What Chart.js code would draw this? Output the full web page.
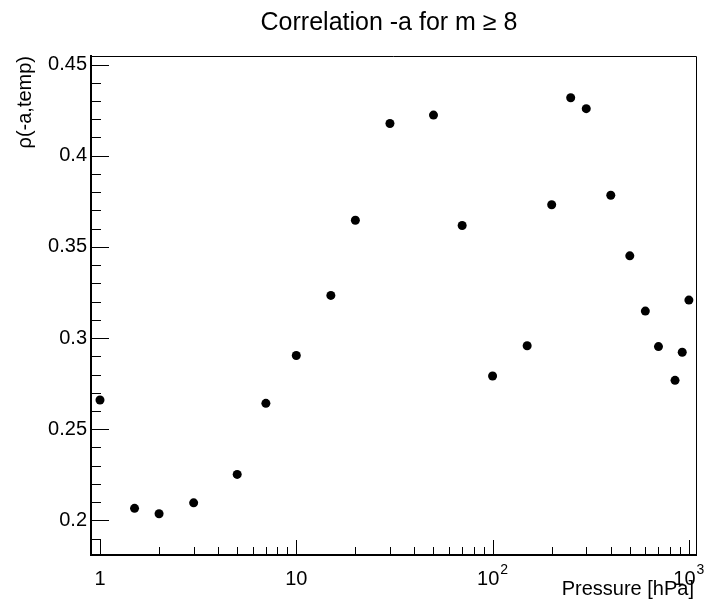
<!DOCTYPE html>
<html>
<head>
<meta charset="utf-8">
<script src="https://cdn.jsdelivr.net/npm/chart.js@4/dist/chart.umd.min.js"></script>
<style>
  html, body { margin: 0; padding: 0; background: #fff; }
  #wrap { width: 704px; height: 602px; }
</style>
</head>
<body>
<div id="wrap"><canvas id="corrChart" width="704" height="602"></canvas></div>
<script>
// ── DATA ──────────────────────────────────────────
const pressure = [1, 1.5, 2, 3, 5, 7, 10, 15, 20, 30, 50, 70,
                  100, 150, 200, 250, 300, 400, 500, 600, 700, 850, 925, 1000];
const corr = [0.266, 0.2066, 0.2036, 0.2096, 0.2252, 0.2642, 0.2904, 0.3234, 0.3646, 0.4177, 0.4223, 0.3617,
              0.2792, 0.2958, 0.3731, 0.4318, 0.4258, 0.3783, 0.3451, 0.3148, 0.2953, 0.2768, 0.2922, 0.3208];

const xTicks = [1, 10, 100, 1000];
const xTickBase = ['1', '10', '10', '10'];
const xTickExp = ['', '', '2', '3'];
const yTicks = [0.2, 0.25, 0.3, 0.35, 0.4, 0.45];

const TITLE = 'Correlation -a for m \u2265 8';
const X_TITLE = 'Pressure [hPa]';
const Y_TITLE = '\u03C1(-a,temp)';

const FONT = "'Liberation Sans', Arial, Helvetica, sans-serif";

// plot frame (ROOT-like)
const FRAME = { left: 91, right: 696, top: 56, bottom: 555 };

// ── ROOT STYLE FRAME, INWARD TICKS, TITLES ────────
const rootFrame = {
  id: 'rootFrame',
  afterDraw(chart) {
    const { ctx, chartArea: a, scales: { x, y } } = chart;
    ctx.save();

    // top + right frame lines
    ctx.strokeStyle = '#000';
    ctx.lineWidth = 1;
    ctx.beginPath();
    ctx.moveTo(a.left, a.top + 0.5);
    ctx.lineTo(a.right + 0.5, a.top + 0.5);
    ctx.lineTo(a.right + 0.5, a.bottom);
    ctx.stroke();

    // y ticks (inward)
    ctx.beginPath();
    for (let i = 19; i <= 45; i++) {
      const v = i / 100;
      const py = Math.round(y.getPixelForValue(v)) + 0.5;
      const len = (i % 5 === 0) ? 18 : 10;
      ctx.moveTo(a.left, py);
      ctx.lineTo(a.left + len, py);
    }
    // x ticks (inward, log)
    for (let d = 1; d <= 1000; d *= 10) {
      for (let m = 1; m <= 9; m++) {
        const v = d * m;
        if (v < x.min || v > x.max) continue;
        const px = Math.round(x.getPixelForValue(v)) + 0.5;
        const len = (m === 1) ? 15 : 8;
        ctx.moveTo(px, a.bottom);
        ctx.lineTo(px, a.bottom - len);
      }
    }
    ctx.stroke();

    // x tick labels with superscript exponents
    ctx.fillStyle = '#000';
    ctx.textBaseline = 'alphabetic';
    ctx.textAlign = 'left';
    xTicks.forEach((v, i) => {
      const px = x.getPixelForValue(v);
      ctx.font = '20px ' + FONT;
      const bw = ctx.measureText(xTickBase[i]).width;
      ctx.font = '14px ' + FONT;
      const ew = xTickExp[i] ? ctx.measureText(xTickExp[i]).width + 1 : 0;
      const x0 = px - (bw + ew) / 2;
      ctx.font = '20px ' + FONT;
      ctx.fillText(xTickBase[i], x0, 585);
      if (xTickExp[i]) {
        ctx.font = '14px ' + FONT;
        ctx.fillText(xTickExp[i], x0 + bw + 1, 574);
      }
    });

    // titles
    ctx.font = '25px ' + FONT;
    ctx.textAlign = 'center';
    ctx.fillText(TITLE, 389, 30);

    ctx.font = '20px ' + FONT;
    ctx.textAlign = 'right';
    ctx.fillText(X_TITLE, a.right - 2, 595);

    ctx.translate(31, a.top);
    ctx.rotate(-Math.PI / 2);
    ctx.textAlign = 'right';
    ctx.fillText(Y_TITLE, 0, 0);
    ctx.restore();
  }
};

// ── CHART ─────────────────────────────────────────
const ctx = document.getElementById('corrChart').getContext('2d');
new Chart(ctx, {
  type: 'scatter',
  data: {
    datasets: [{
      label: 'corr',
      data: pressure.map((p, i) => ({ x: p, y: corr[i] })),
      backgroundColor: '#000',
      borderColor: '#000',
      borderWidth: 0,
      pointRadius: 4.5,
      pointHoverRadius: 4.5,
    }],
  },
  options: {
    responsive: false,
    animation: false,
    events: [],
    layout: { padding: { left: 0, right: 704 - FRAME.right, top: FRAME.top, bottom: 0 } },
    plugins: {
      legend: { display: false },
      tooltip: { enabled: false },
      title: { display: false },
    },
    scales: {
      x: {
        type: 'logarithmic',
        min: 0.9,
        max: 1087,
        grid: { display: false, drawTicks: false },
        border: { display: true, color: '#000', width: 2 },
        afterBuildTicks: s => { s.ticks = xTicks.map(v => ({ value: v, major: true })); },
        afterFit: s => { s.height = 602 - FRAME.bottom; s.paddingLeft = 0; s.paddingRight = 0; },
        ticks: { display: false },
      },
      y: {
        min: 0.181,
        max: 0.4547,
        grid: { display: false, drawTicks: false },
        border: { display: true, color: '#000', width: 2 },
        afterBuildTicks: s => { s.ticks = yTicks.map(v => ({ value: v })); },
        afterFit: s => { s.width = FRAME.left; s.paddingTop = 0; s.paddingBottom = 0; },
        ticks: {
          autoSkip: false,
          padding: 4,
          color: '#000',
          font: { family: FONT, size: 20 },
          callback: v => String(Math.round(v * 100) / 100),
        },
      },
    },
  },
  plugins: [rootFrame],
});
</script>
</body>
</html>
